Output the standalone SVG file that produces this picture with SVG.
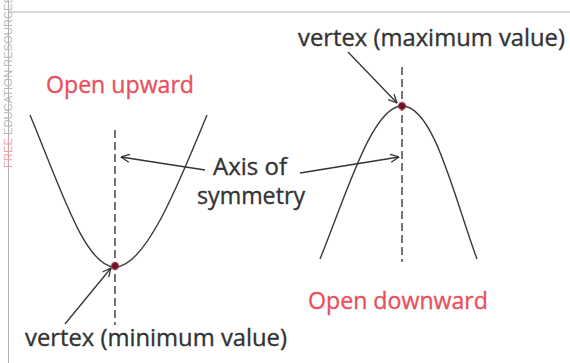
<svg xmlns="http://www.w3.org/2000/svg" width="570" height="363" viewBox="0 0 570 363">
<defs>
<marker id="arr" viewBox="0 0 10 10" refX="9.5" refY="5" markerWidth="10" markerHeight="10" markerUnits="userSpaceOnUse" orient="auto">
<path d="M1,1 L9.5,5 L1,9" fill="none" stroke="#333" stroke-width="1.3"/>
</marker>
<radialGradient id="dotg">
<stop offset="0" stop-color="#5a0f1c"/>
<stop offset="0.6" stop-color="#7a1a2a"/>
<stop offset="1" stop-color="#c0405a" stop-opacity="0"/>
</radialGradient>
</defs>
<style>
.frame{stroke:#b0b0b0;stroke-width:1;fill:none}
.curve{stroke:#3a3a3a;stroke-width:1.4;fill:none}
.axis{stroke:#3a3a3a;stroke-width:1.4;fill:none;stroke-dasharray:8 4}
.arrow{stroke:#333;stroke-width:1.3;fill:none;marker-end:url(#arr)}
.lbl{font-family:"Open Sans","Liberation Sans",sans-serif;font-size:23.5px;fill:#333;stroke:#333;stroke-width:0.35}
.red{fill:#e8505e;stroke:#e8505e}
.wm{font-family:"Liberation Sans",sans-serif;font-size:10.5px;fill:#b8b8b8}
</style>
<rect width="570" height="363" fill="#ffffff"/>
<g id="frame">
<line class="frame" x1="8.5" y1="12" x2="570" y2="12"/>
<line class="frame" x1="8.5" y1="0" x2="8.5" y2="363"/>
<text class="wm" transform="translate(12,168) rotate(-90)" textLength="172" lengthAdjust="spacingAndGlyphs"><tspan fill="#f0a0a8">FREE</tspan> EDUCATION RESOURCES</text>
</g>
<g id="parabola-up">
<path class="curve" d="M30,115 C60.8,188.7 85,267 115,267 C145,267 177.3,187.6 207,115"/>
<line class="axis" x1="115" y1="130" x2="115" y2="325"/>
<circle cx="115" cy="266" r="5" fill="url(#dotg)"/>
</g>
<g id="parabola-down">
<path class="curve" d="M320,259 C345.6,196.6 372,106 402,106 C434,106 453.8,196.6 477,259"/>
<line class="axis" x1="402" y1="67" x2="402" y2="262"/>
<circle cx="402" cy="106" r="5" fill="url(#dotg)"/>
</g>
<g id="label-max">
<text class="lbl" x="298" y="46" textLength="267" lengthAdjust="spacingAndGlyphs">vertex (maximum value)</text>
</g>
<g id="label-open-up">
<text class="lbl red" x="46" y="93" textLength="148" lengthAdjust="spacingAndGlyphs">Open upward</text>
</g>
<g id="label-axis">
<text class="lbl" x="213" y="175" textLength="74" lengthAdjust="spacingAndGlyphs">Axis of</text>
<text class="lbl" x="197" y="204" textLength="108" lengthAdjust="spacingAndGlyphs">symmetry</text>
</g>
<g id="label-open-down">
<text class="lbl red" x="308" y="309" textLength="180" lengthAdjust="spacingAndGlyphs">Open downward</text>
</g>
<g id="label-min">
<text class="lbl" x="25" y="346" textLength="262" lengthAdjust="spacingAndGlyphs">vertex (minimum value)</text>
</g>
<g id="connectors">
<line class="arrow" x1="348" y1="52" x2="397" y2="103"/>
<line class="arrow" x1="65" y1="324" x2="111" y2="268"/>
<line class="arrow" x1="205" y1="170" x2="121" y2="157"/>
<line class="arrow" x1="300" y1="173" x2="399" y2="157"/>
</g>
</svg>
